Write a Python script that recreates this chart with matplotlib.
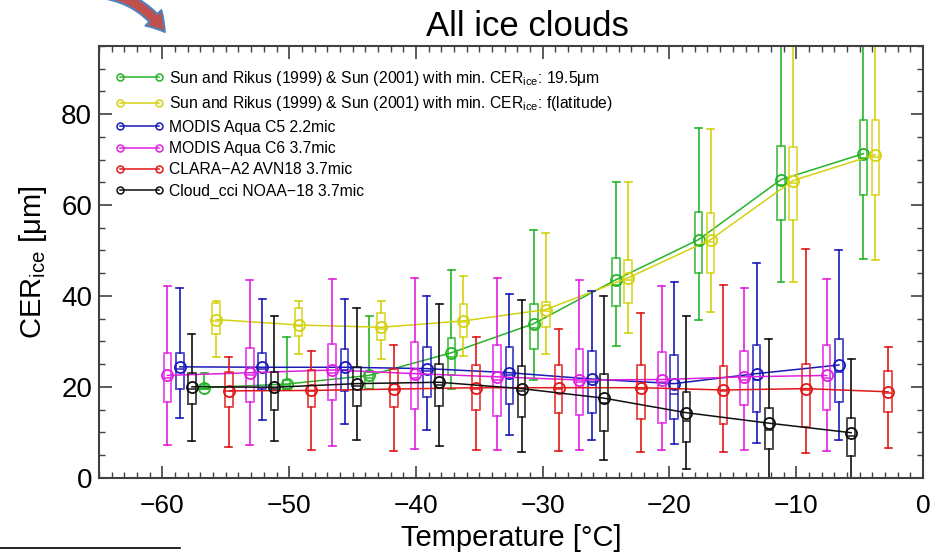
import numpy as np
import matplotlib.pyplot as plt
from matplotlib.patches import FancyArrowPatch
from matplotlib.lines import Line2D
from matplotlib.ticker import MultipleLocator

plt.rcParams['font.family'] = ['Liberation Sans', 'DejaVu Sans']
plt.rcParams['mathtext.fontset'] = 'custom'
plt.rcParams['mathtext.rm'] = 'Liberation Sans'
plt.rcParams['mathtext.it'] = 'Liberation Sans:italic'

# temperature bins (first series position), degC
bin_temp = [-59.6, -53.1, -46.6, -40.1, -33.6, -27.1, -20.6, -14.1, -7.6]

# Sun and Rikus, min CER 19.5
green_mean = [19.8, 20.6, 22.5, 27.5, 33.9, 43.6, 52.4, 65.6, 71.3]
green_med = [19.8, 20.4, 22.0, 26.5, 32.9, 42.3, 51.2, 64.5, 70.3]
green_q1 = [19.5, 19.6, 19.5, 22.6, 28.3, 37.8, 45.1, 56.6, 62.3]
green_q3 = [20.3, 21.5, 23.3, 30.8, 38.2, 48.4, 58.5, 73.1, 78.8]
green_lo = [19.5, 19.5, 19.5, 19.5, 21.5, 28.9, 34.7, 43.1, 48.2]
green_hi = [23.0, 31.0, 35.5, 45.8, 54.5, 65.0, 77.0, 100.0, 100.0]

# Sun and Rikus, min CER f(latitude)
yellow_mean = [34.8, 33.6, 33.1, 34.5, 37.0, 44.0, 52.4, 65.4, 71.1]
yellow_med = [34.5, 33.4, 32.8, 34.2, 36.6, 43.5, 51.8, 64.8, 70.5]
yellow_q1 = [31.7, 31.1, 30.3, 31.0, 33.2, 38.5, 45.1, 56.6, 62.3]
yellow_q3 = [38.4, 37.4, 36.3, 38.2, 38.7, 48.0, 58.2, 72.7, 78.8]
yellow_lo = [26.6, 27.3, 26.2, 26.7, 27.3, 31.9, 36.5, 43.1, 47.8]
yellow_hi = [38.8, 38.8, 38.8, 44.4, 53.8, 65.0, 76.8, 100.0, 100.0]

# MODIS C5
blue_mean = [24.4, 24.3, 24.3, 24.0, 23.1, 21.7, 20.7, 22.9, 24.8]
blue_med = [24.0, 24.0, 23.8, 23.5, 22.5, 21.0, 18.5, 21.5, 23.3]
blue_q1 = [19.6, 19.6, 19.1, 17.8, 16.2, 14.3, 13.0, 14.5, 16.6]
blue_q3 = [27.5, 27.5, 28.3, 28.8, 28.8, 27.8, 26.9, 29.1, 30.6]
blue_lo = [13.2, 12.6, 11.9, 10.5, 9.5, 8.4, 7.5, 7.6, 8.4]
blue_hi = [41.8, 39.4, 39.3, 40.0, 40.5, 41.0, 43.1, 47.3, 50.0]

# MODIS C6
magenta_mean = [22.5, 23.1, 23.7, 22.9, 22.2, 21.5, 21.6, 22.2, 22.5]
magenta_med = [22.0, 22.5, 23.0, 22.0, 21.5, 21.0, 21.0, 21.5, 22.0]
magenta_q1 = [16.7, 16.7, 17.1, 15.1, 13.6, 13.9, 12.0, 16.1, 14.8]
magenta_q3 = [27.5, 28.6, 29.5, 29.8, 29.2, 28.3, 27.6, 27.9, 29.2]
magenta_lo = [7.1, 7.1, 7.0, 6.4, 6.0, 6.0, 6.1, 6.1, 5.9]
magenta_hi = [42.2, 43.4, 43.8, 44.0, 44.0, 43.4, 42.2, 41.8, 43.8]

# CLARA-A2
red_mean = [19.1, 19.2, 19.5, 19.8, 19.8, 19.8, 19.3, 19.6, 18.9]
red_med = [19.0, 19.0, 19.3, 19.5, 19.5, 19.5, 19.0, 19.2, 18.7]
red_q1 = [15.6, 15.5, 15.5, 14.8, 14.2, 12.9, 11.8, 11.1, 14.5]
red_q3 = [23.3, 23.7, 24.0, 24.7, 24.8, 24.8, 24.6, 25.0, 23.4]
red_lo = [6.8, 6.0, 5.9, 6.2, 5.9, 5.6, 5.7, 5.4, 6.5]
red_hi = [26.6, 27.9, 29.2, 31.0, 32.7, 36.3, 42.4, 50.4, 28.7]

# Cloud_cci
black_mean = [20.0, 19.9, 20.7, 21.0, 19.6, 17.5, 14.3, 12.0, 9.9]
black_med = [19.5, 19.5, 20.2, 20.5, 19.0, 16.5, 12.5, 10.5, 9.2]
black_q1 = [16.2, 15.0, 15.8, 15.8, 13.4, 10.3, 7.9, 6.3, 4.8]
black_q3 = [23.1, 23.3, 24.3, 25.1, 24.5, 22.8, 18.9, 15.4, 13.2]
black_lo = [8.1, 8.0, 8.3, 7.0, 5.7, 4.0, 1.9, 0.0, 0.0]
black_hi = [31.7, 35.5, 37.4, 38.2, 39.1, 39.9, 35.5, 30.6, 26.2]

labels = [
    'Sun and Rikus (1999) & Sun (2001) with min. CER$_{\\rm ice}$: 19.5\u03bcm',
    'Sun and Rikus (1999) & Sun (2001) with min. CER$_{\\rm ice}$: f(latitude)',
    'MODIS Aqua C5 2.2mic',
    'MODIS Aqua C6 3.7mic',
    'CLARA\u2212A2 AVN18 3.7mic',
    'Cloud_cci NOAA\u221218 3.7mic',
]
colors = ['#28b428', '#d4d210', '#1a1ab8', '#e020e0', '#e01818', '#101010']
shift = [2.9, 3.85, 0.97, 0.0, 4.85, 1.93]

series = [
    (green_mean, green_med, green_q1, green_q3, green_lo, green_hi),
    (yellow_mean, yellow_med, yellow_q1, yellow_q3, yellow_lo, yellow_hi),
    (blue_mean, blue_med, blue_q1, blue_q3, blue_lo, blue_hi),
    (magenta_mean, magenta_med, magenta_q1, magenta_q3, magenta_lo, magenta_hi),
    (red_mean, red_med, red_q1, red_q3, red_lo, red_hi),
    (black_mean, black_med, black_q1, black_q3, black_lo, black_hi),
]

fig = plt.figure(figsize=(9.45, 5.53), dpi=100)
ax = fig.add_axes([0.1048, 0.1362, 0.8719, 0.7806])

handles = []
for (mean, med, q1, q3, lo, hi), c, dx, lab in zip(series, colors, shift, labels):
    pos = np.array(bin_temp) + dx
    stats = [dict(med=m, q1=a, q3=b, whislo=l, whishi=h, fliers=[])
             for m, a, b, l, h in zip(med, q1, q3, lo, hi)]
    lp = dict(color=c, lw=1.4, alpha=0.75)
    ax.bxp(stats, positions=pos, widths=0.6, showfliers=False,
           boxprops=lp, medianprops=lp, whiskerprops=dict(color=c, lw=1.2),
           capprops=dict(color=c, lw=1.2), capwidths=0.55, manage_ticks=False)
    ax.plot(pos, mean, '-', color=c, lw=1.1, marker='o', ms=8, mfc='none', mew=1.3)
    handles.append(Line2D([], [], color=c, lw=1.1, marker='o', ms=5, mfc='none', mew=1.1, label=lab))

ax.set_xlim(-65, 0)
ax.set_ylim(0, 95)
ax.xaxis.set_major_locator(MultipleLocator(10))
ax.xaxis.set_minor_locator(MultipleLocator(1))
ax.yaxis.set_major_locator(MultipleLocator(20))
ax.yaxis.set_minor_locator(MultipleLocator(5))
ax.tick_params(which='both', direction='in', top=True, right=True, color='#404040')
ax.tick_params(axis='x', labelsize=19, pad=12)
ax.tick_params(axis='y', labelsize=20, pad=5)
ax.tick_params(which='major', length=9, width=1.2)
ax.tick_params(which='minor', length=4.5, width=1.0)
for s in ax.spines.values():
    s.set_color('#404040')
    s.set_linewidth(1.5)

ax.set_title('All ice clouds', fontsize=25, pad=7, x=0.52)
ax.set_xlabel('Temperature [\u00b0C]', fontsize=21, labelpad=4)
ax.set_ylabel('CER$_{\\rm ice}$ [\u03bcm]', fontsize=21, labelpad=9)

ax.legend(handles=handles, loc='upper left', bbox_to_anchor=(0.012, 0.962), frameon=False,
          fontsize=11.3, numpoints=2, handlelength=3.1, handletextpad=0.35,
          labelspacing=0.41, borderaxespad=0)

# slide decorations
arrow = FancyArrowPatch((0.100, 1.015), (0.176, 0.938), transform=fig.transFigure,
                        connectionstyle='arc3,rad=-0.25',
                        arrowstyle='simple,head_width=16,head_length=13,tail_width=8',
                        fc='#c0504d', ec='#4f81bd', lw=1.5, clip_on=False)
fig.patches.append(arrow)
fig.lines.append(Line2D([0, 0.19], [0.009, 0.009], transform=fig.transFigure, color='black', lw=1.2))

fig.savefig('out.png', dpi=100)
